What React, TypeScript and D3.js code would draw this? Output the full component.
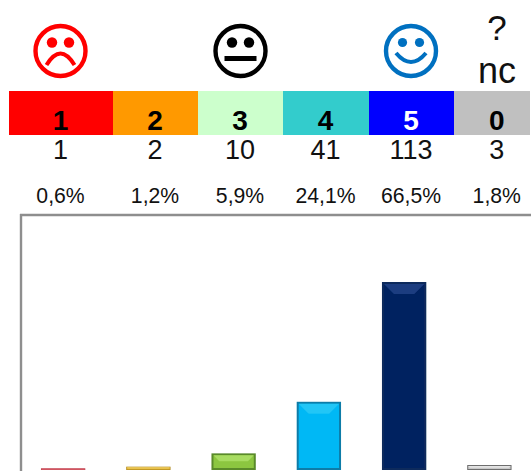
import React from 'react';
import * as d3 from 'd3';

// chart values
const scores = ['1', '2', '3', '4', '5', '0'];
const counts = [1, 2, 10, 41, 113, 3];
const percents = ['0,6%', '1,2%', '5,9%', '24,1%', '66,5%', '1,8%'];
const cellColors = ['#ff0000', '#ff9900', '#ccffcc', '#33cccc', '#0000ff', '#c0c0c0'];
const scoreColors = ['#000', '#000', '#000', '#000', '#fff', '#000'];
const barMain = ['#d8505c', '#e6b83a', '#8cc63f', '#00b8f5', '#002060', '#c8c8c8'];
const barEdge = ['#b03a48', '#b08a20', '#5a8a2c', '#0a7ca8', '#0a2a5c', '#6e6e6e'];
const barLight = ['#e07a84', '#eccb60', '#a8dc62', '#22c6f6', '#1e3c80', '#e4e4e4'];

const W = 531;
const H = 471;
const FONT = '"Liberation Sans", Arial, sans-serif';

// header strip: first cell is wider than the others, last one is cropped by the picture
const headerEdges = [9, 113, 198, 283, 369, 454, 530];
const CELL_W = 85.5;
const cellCenter = (i: number) =>
  i === scores.length - 1 ? headerEdges[i] + CELL_W / 2 : (headerEdges[i] + headerEdges[i + 1]) / 2 - 0.5;

const x = d3.scaleBand<string>().domain(scores).range([20.5, 532]).paddingInner(0.48).paddingOuter(0.24);
const y = d3.scaleLinear().domain([0, 113]).range([470, 282]);

function mouth(x0: number, x1: number, yEnd: number, yCtrl: number) {
  const p = d3.path();
  p.moveTo(x0, yEnd);
  p.quadraticCurveTo((x0 + x1) / 2, yCtrl, x1, yEnd);
  return p.toString();
}

function Face({ cx, color, kind }: { cx: number; color: string; kind: string }) {
  const eyeR = kind === 'happy' ? 4.6 : 5.2;
  return (
    <g transform={`translate(${cx},51)`} fill="none" stroke={color}>
      <circle r={25} strokeWidth={4.4} />
      <circle cx={-8.5} cy={-8.5} r={eyeR} fill={color} stroke="none" />
      <circle cx={8.5} cy={-8.5} r={eyeR} fill={color} stroke="none" />
      {kind === 'sad' && <path d={mouth(-14, 14, 14, -9)} strokeWidth={4} />}
      {kind === 'neutral' && <line x1={-16} x2={16} y1={7.5} y2={7.5} strokeWidth={5} />}
      {kind === 'happy' && <path d={mouth(-15, 15, 2, 20)} strokeWidth={4} />}
    </g>
  );
}

function Bar({ i }: { i: number }) {
  const left = x(scores[i]) as number;
  const w = x.bandwidth();
  const top = y(counts[i]);
  const h = y(0) - top;
  const b = Math.min(h * 0.35, 10);
  const e = Math.min(h * 0.2, 2);
  return (
    <g>
      <rect x={left} y={top} width={w} height={h} fill={barEdge[i]} />
      <rect x={left + e} y={top + e} width={w - 2 * e} height={Math.max(h - 2 * e, 0)} fill={barMain[i]} />
      <path
        d={`M${left + e},${top + e}H${left + w - e}L${left + w - e - b},${top + e + b}H${left + e + b}Z`}
        fill={barLight[i]}
      />
    </g>
  );
}

export default function App() {
  return (
    <svg
      width={W}
      height={H}
      viewBox={`0 0 ${W} ${H}`}
      style={{ position: 'absolute', left: 0, top: 0, background: '#fff' }}
      fontFamily={FONT}
    >
      <defs>
        <filter id="soft" x="-5%" y="-5%" width="110%" height="110%">
          <feGaussianBlur stdDeviation="0.6" />
        </filter>
      </defs>

      <Face cx={60.5} color="#ff0000" kind="sad" />
      <Face cx={240.5} color="#000" kind="neutral" />
      <Face cx={411} color="#0070c0" kind="happy" />
      <text x={497} y={40} fontSize={35} textAnchor="middle" fill="#111">?</text>
      <text x={497} y={83} fontSize={36} textAnchor="middle" fill="#111">nc</text>

      {scores.map((s, i) => (
        <g key={s}>
          <rect x={headerEdges[i]} y={91} width={headerEdges[i + 1] - headerEdges[i]} height={44} fill={cellColors[i]} />
          <text x={cellCenter(i)} y={130} fontSize={28} fontWeight="bold" textAnchor="middle" fill={scoreColors[i]}>{s}</text>
          <text x={cellCenter(i)} y={159} fontSize={27} textAnchor="middle" fill="#111">{counts[i]}</text>
          <text x={cellCenter(i)} y={203} fontSize={21.2} textAnchor="middle" fill="#111">{percents[i]}</text>
        </g>
      ))}

      <g filter="url(#soft)">
        <line x1={21} x2={21} y1={214} y2={H + 4} stroke="#8e8e8e" strokeWidth={2.4} />
        <line x1={20} x2={W + 4} y1={215} y2={215} stroke="#8e8e8e" strokeWidth={2.4} />
        {scores.map((s, i) => <Bar key={s} i={i} />)}
      </g>
    </svg>
  );
}
